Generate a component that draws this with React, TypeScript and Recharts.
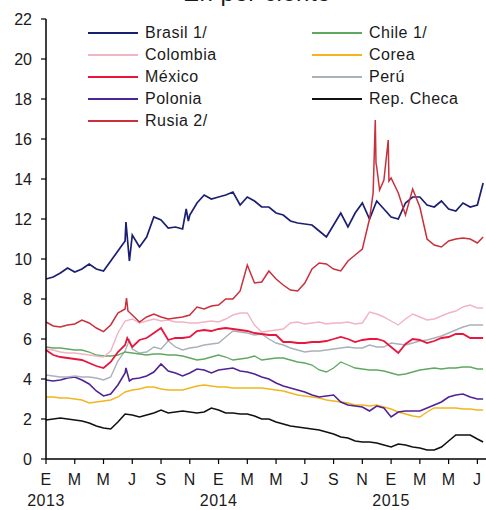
import { Legend, Line, LineChart, XAxis, YAxis } from 'recharts';

// half-month sampling, Jan 2013 = 0
const grid = Array.from({ length: 61 }, (_, i) => i / 2).concat([30.4]);

const monthLetters = ['E', 'F', 'M', 'A', 'M', 'J', 'J', 'A', 'S', 'O', 'N', 'D'];
const yearLabels = ['2013', '2014', '2015'];
const xTicks = [0, 2, 4, 6, 8, 10, 12, 14, 16, 18, 20, 22, 24, 26, 28, 30];
const yTicks = [0, 2, 4, 6, 8, 10, 12, 14, 16, 18, 20, 22];

const brasil = [
  9.0, 9.1, 9.3, 9.55, 9.35, 9.5, 9.75, 9.5, 9.4, 9.9,
  10.4, 10.9, 11.2, 10.6, 11.1, 12.1, 11.95, 11.55, 11.6, 11.5,
  12.2, 12.8, 13.2, 13.0, 13.1, 13.2, 13.35, 12.7, 13.1, 12.9,
  12.6, 12.6, 12.3, 12.2, 11.9, 11.8, 11.75, 11.7, 11.4, 11.1,
  11.7, 12.3, 11.6, 12.3, 12.8, 12.0, 12.9, 12.5, 12.1, 12.0,
  12.8, 13.1, 13.1, 12.7, 12.6, 12.9, 12.5, 12.4, 12.8, 12.6,
  12.7, 13.8,
];
const brasilExtra = [[5.56, 11.85], [5.8, 9.9], [9.75, 12.5], [9.9, 11.9]];

const rusia = [
  6.85, 6.65, 6.6, 6.7, 6.75, 6.95, 6.8, 6.55, 6.37, 6.7,
  7.3, 7.5, 7.2, 6.85, 7.1, 7.25, 7.1, 7.0, 7.05, 7.1,
  7.2, 7.6, 7.5, 7.65, 7.7, 8.0, 8.0, 8.4, 9.7, 8.8,
  8.85, 9.4, 9.0, 8.7, 8.45, 8.4, 8.8, 9.5, 9.8, 9.75,
  9.5, 9.4, 9.9, 10.2, 10.5, 12.0, 14.6, 13.95, 14.05, 13.3,
  12.2, 13.5, 12.6, 11.0, 10.7, 10.6, 10.9, 11.0, 11.05, 11.0,
  10.8, 11.1,
];
const rusiaExtra = [
  [5.6, 8.05], [5.7, 7.4], [22.75, 13.3], [22.9, 16.95], [22.95, 14.8],
  [23.2, 13.45], [23.8, 15.95], [23.85, 13.9],
];

const colombia = [
  5.5, 5.45, 5.35, 5.3, 5.3, 5.25, 5.2, 5.15, 5.1, 5.4,
  6.3, 6.9, 7.0, 6.8, 6.9, 7.0, 6.9, 6.95, 6.85, 6.85,
  6.8, 6.8, 6.85, 6.9, 6.85, 7.0, 7.2, 7.3, 7.3, 6.7,
  6.35, 6.4, 6.45, 6.5, 6.8, 6.85, 6.75, 6.8, 6.85, 6.75,
  6.8, 6.8, 6.85, 6.75, 6.8, 7.35, 7.25, 7.1, 6.9, 6.7,
  7.0, 7.25, 7.1, 6.95, 7.0, 7.15, 7.3, 7.4, 7.6, 7.7,
  7.55, 7.55,
];

const mexico = [
  5.45, 5.2, 5.1, 5.05, 5.0, 4.95, 4.8, 4.65, 4.55, 4.85,
  5.35, 5.7, 5.6, 5.95, 6.05, 6.3, 6.55, 5.95, 6.05, 6.05,
  6.1, 6.4, 6.45, 6.4, 6.5, 6.55, 6.5, 6.45, 6.4, 6.3,
  6.25, 6.2, 6.2, 5.85, 5.85, 5.8, 5.8, 5.85, 5.85, 5.9,
  6.0, 6.1, 6.0, 5.85, 5.95, 6.0, 6.0, 5.9, 5.6, 5.3,
  5.75, 6.0, 5.95, 5.8, 5.9, 6.05, 6.1, 6.25, 6.25, 6.05,
  6.05, 6.05,
];
const mexicoExtra = [[5.65, 6.05]];

const chile = [
  5.6, 5.55, 5.55, 5.5, 5.45, 5.45, 5.35, 5.2, 5.15, 5.15,
  5.2, 5.35, 5.3, 5.25, 5.2, 5.25, 5.25, 5.2, 5.2, 5.15,
  5.05, 4.95, 5.0, 5.1, 5.2, 5.1, 4.95, 5.0, 5.05, 5.15,
  4.95, 5.0, 5.05, 5.05, 4.95, 4.85, 4.8, 4.7, 4.45, 4.35,
  4.55, 4.85, 4.7, 4.55, 4.5, 4.45, 4.45, 4.4, 4.3, 4.2,
  4.25, 4.35, 4.45, 4.5, 4.55, 4.5, 4.55, 4.55, 4.6, 4.6,
  4.5, 4.5,
];

const peru = [
  4.2, 4.15, 4.1, 4.1, 4.15, 4.1, 4.1, 4.05, 3.95, 4.1,
  4.9, 5.4, 5.5, 5.3, 5.35, 5.6, 5.5, 5.9, 5.6, 5.45,
  5.55, 5.6, 5.7, 5.75, 5.8, 6.1, 6.4, 6.35, 6.3, 6.2,
  6.25, 6.0, 5.8, 5.7, 5.55, 5.45, 5.35, 5.4, 5.4, 5.45,
  5.5, 5.55, 5.6, 5.55, 5.55, 5.7, 5.6, 5.6, 5.8, 5.75,
  5.7, 5.8, 5.9, 5.95, 6.05, 6.15, 6.3, 6.45, 6.6, 6.7,
  6.7, 6.7,
];
const peruExtra = [[5.8, 5.95]];

const polonia = [
  3.95, 3.9, 3.95, 4.05, 4.1, 3.95, 3.75, 3.4, 3.15, 3.25,
  3.7, 4.3, 4.0, 4.05, 4.15, 4.35, 4.75, 4.4, 4.3, 4.15,
  4.3, 4.5, 4.45, 4.3, 4.45, 4.5, 4.55, 4.4, 4.35, 4.25,
  4.1, 4.0, 3.8, 3.65, 3.55, 3.45, 3.35, 3.2, 3.1, 3.15,
  3.2, 2.85, 2.7, 2.65, 2.6, 2.4, 2.65, 2.55, 2.1, 2.35,
  2.4, 2.4, 2.4, 2.55, 2.7, 2.85, 3.1, 3.2, 3.25, 3.1,
  3.0, 3.0,
];
const poloniaExtra = [[5.56, 4.55], [5.8, 3.9]];

const corea = [
  3.1, 3.1, 3.05, 3.05, 3.0, 2.95, 2.8, 2.85, 2.9, 2.95,
  3.1, 3.35, 3.45, 3.5, 3.6, 3.6, 3.5, 3.45, 3.45, 3.45,
  3.55, 3.65, 3.7, 3.65, 3.6, 3.6, 3.55, 3.55, 3.55, 3.55,
  3.55, 3.5, 3.45, 3.4, 3.3, 3.2, 3.15, 3.1, 3.05, 2.95,
  2.9, 2.85, 2.8, 2.7, 2.7, 2.65, 2.7, 2.6, 2.5, 2.35,
  2.25, 2.15, 2.1, 2.35, 2.55, 2.55, 2.55, 2.55, 2.5, 2.5,
  2.45, 2.45,
];

const checa = [
  1.95, 2.0, 2.05, 2.0, 1.95, 1.9, 1.8, 1.65, 1.55, 1.5,
  1.85, 2.25, 2.2, 2.1, 2.2, 2.3, 2.45, 2.3, 2.35, 2.4,
  2.35, 2.3, 2.35, 2.55, 2.45, 2.3, 2.3, 2.25, 2.25, 2.15,
  2.0, 2.0, 1.85, 1.75, 1.65, 1.6, 1.55, 1.5, 1.45, 1.35,
  1.25, 1.1, 1.05, 0.9, 0.85, 0.85, 0.8, 0.7, 0.6, 0.75,
  0.7, 0.6, 0.55, 0.45, 0.45, 0.6, 0.9, 1.2, 1.2, 1.2,
  1.0, 0.85,
];

function build(values: number[], extra: number[][] = []) {
  const pts = grid.map((t, i) => ({ t, v: values[i] }));
  extra.forEach(([t, v]) => pts.push({ t, v }));
  return pts.sort((a, b) => a.t - b.t);
}

const series = [
  { name: 'Rep. Checa', color: '#111111', data: build(checa), width: 1.6 },
  { name: 'Corea', color: '#f2b51e', data: build(corea), width: 1.4 },
  { name: 'Polonia', color: '#4f2395', data: build(polonia, poloniaExtra), width: 1.6 },
  { name: 'Perú', color: '#a9b1b9', data: build(peru, peruExtra), width: 1.4 },
  { name: 'Chile 1/', color: '#5fa860', data: build(chile), width: 1.3 },
  { name: 'Colombia', color: '#f2b3c3', data: build(colombia), width: 1.4 },
  { name: 'México', color: '#e8163f', data: build(mexico, mexicoExtra), width: 1.8 },
  { name: 'Brasil 1/', color: '#1b1f72', data: build(brasil, brasilExtra), width: 1.7 },
  { name: 'Rusia 2/', color: '#c9303c', data: build(rusia, rusiaExtra), width: 1.5 },
];

const legendLeft = ['Brasil 1/', 'Colombia', 'México', 'Polonia', 'Rusia 2/'];
const legendRight = ['Chile 1/', 'Corea', 'Perú', 'Rep. Checa'];

const font = 'Arial, "Liberation Sans", sans-serif';

function colorOf(name: string) {
  return series.find((s) => s.name === name)?.color ?? '#000';
}

function LegendBox() {
  const item = (name: string, i: number, x: number) => (
    <div
      key={name}
      style={{
        position: 'absolute',
        left: x,
        top: 33 + i * 22 - 10,
        height: 20,
        display: 'flex',
        alignItems: 'center',
        whiteSpace: 'nowrap',
      }}
    >
      <svg width={50} height={4} style={{ display: 'block' }}>
        <line x1={0} y1={2} x2={50} y2={2} stroke={colorOf(name)} strokeWidth={2} />
      </svg>
      <span style={{ marginLeft: 7, fontSize: 16, letterSpacing: 0.5, color: '#1a1a1a', fontFamily: font }}>{name}</span>
    </div>
  );
  return (
    <div style={{ position: 'relative', width: 486, height: 130 }}>
      {legendLeft.map((n, i) => item(n, i, 88))}
      {legendRight.map((n, i) => item(n, i, 312))}
    </div>
  );
}

function MonthTick({ x, y, payload }: any) {
  const m = payload.value as number;
  const letter = monthLetters[m % 12];
  const year = m % 12 === 0 ? yearLabels[m / 12] : null;
  return (
    <g fontFamily={font} fontSize={16} fill="#1a1a1a" textAnchor="middle" letterSpacing={0.5}>
      <text x={x} y={y + 21}>{letter}</text>
      {year && <text x={x} y={y + 42}>{year}</text>}
    </g>
  );
}

export default function App() {
  return (
    <div style={{ position: 'absolute', left: 0, top: 0, width: 486, height: 510, background: '#fff', overflow: 'hidden' }}>
      <div
        style={{
          position: 'absolute',
          left: 0,
          width: 486,
          top: -21,
          textAlign: 'center',
          paddingLeft: 28,
          boxSizing: 'border-box',
          fontSize: 24,
          fontFamily: font,
          color: '#1a1a1a',
          letterSpacing: 0.5,
        }}
      >
        En por ciento
      </div>
      <LineChart width={486} height={510} margin={{ top: 19, right: 0, bottom: 0, left: 0 }}>
        <XAxis
          dataKey="t"
          type="number"
          domain={[0, 30.6]}
          ticks={xTicks}
          allowDuplicatedCategory={false}
          height={51}
          tickSize={5}
          tickMargin={0}
          tick={<MonthTick />}
          axisLine={{ stroke: '#000', strokeWidth: 1.5 }}
          tickLine={{ stroke: '#000', strokeWidth: 1.2 }}
          interval={0}
        />
        <YAxis
          type="number"
          domain={[0, 22]}
          ticks={yTicks}
          width={46}
          tickSize={5}
          tickMargin={9}
          interval={0}
          axisLine={{ stroke: '#000', strokeWidth: 1.5 }}
          tickLine={{ stroke: '#000', strokeWidth: 1.2 }}
          tick={{ fontSize: 16, fill: '#1a1a1a', fontFamily: font }}
        />
        <Legend
          layout="horizontal"
          verticalAlign="middle"
          align="center"
          wrapperStyle={{ top: 0, left: 0, width: 486, height: 130 }}
          content={() => <LegendBox />}
        />
        {series.map((s) => (
          <Line
            key={s.name}
            data={s.data}
            dataKey="v"
            name={s.name}
            type="linear"
            stroke={s.color}
            strokeWidth={s.width}
            dot={false}
            activeDot={false}
            isAnimationActive={false}
          />
        ))}
      </LineChart>
    </div>
  );
}
